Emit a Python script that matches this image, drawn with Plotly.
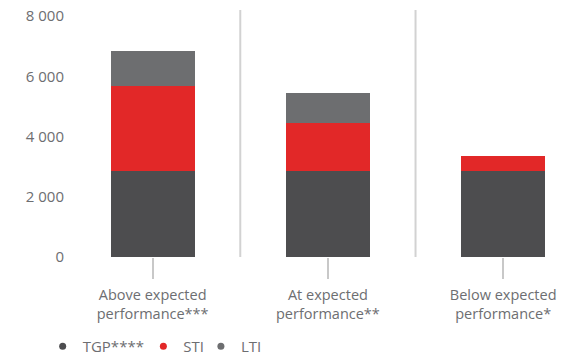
import plotly.graph_objects as go

# ---- data ----
categories = ["Above expected<br>performance***", "At expected<br>performance**", "Below expected<br>performance*"]
tgp = [2860, 2860, 2860]
sti = [2830, 1600, 500]
lti = [1150, 980, 0]
series_names = ["TGP****", "STI", "LTI"]
series_colors = ["#4d4d4f", "#e22828", "#6d6e70"]
y_ticks = [0, 2000, 4000, 6000, 8000]

# ---- style ----
W, H = 561, 363
M = dict(l=65, r=0, t=10, b=101)
Y_MAX = 8200
TICK_LEN = 21
TEXT = "#6d6e71"
FONT = "Open Sans"
plot_h = H - M["t"] - M["b"]

fig = go.Figure()
for name, vals, col in zip(series_names, [tgp, sti, lti], series_colors):
    fig.add_trace(go.Bar(x=categories, y=vals, name=name, marker=dict(color=col, line=dict(width=0)),
                         width=0.48, showlegend=False))

# cap of the category tick marks
cap_y = -TICK_LEN * Y_MAX / plot_h
fig.add_trace(go.Scatter(x=categories, y=[cap_y] * len(categories), mode="markers",
                         marker=dict(symbol="line-ew", size=9, line=dict(width=2, color="#c8c8c8")),
                         cliponaxis=False, showlegend=False, hoverinfo="skip"))

# legend entries (circles), each in its own legend for placement
legend_x = [-0.045, 0.158, 0.274]
for i, (name, col) in enumerate(zip(series_names, series_colors)):
    lg = "legend" if i == 0 else f"legend{i+1}"
    fig.add_trace(go.Scatter(x=[None], y=[None], mode="markers", name=name,
                             marker=dict(symbol="circle", size=7, color=col),
                             legend=lg, showlegend=True))

# separators between categories
for i in range(len(categories) - 1):
    fig.add_shape(type="line", xref="x", yref="paper", x0=i + 0.5, x1=i + 0.5, y0=0, y1=1,
                  line=dict(color="#d2d2d2", width=2), layer="below")

legend_common = dict(orientation="h", yanchor="middle", y=-0.365, xanchor="left",
                     font=dict(family=FONT, size=15, color=TEXT), bgcolor="rgba(0,0,0,0)",
                     itemwidth=30)
layout_legends = {}
for i in range(3):
    key = "legend" if i == 0 else f"legend{i+1}"
    layout_legends[key] = dict(legend_common, x=legend_x[i])

fig.update_layout(
    width=W, height=H, margin=M,
    barmode="stack", bargap=0.52,
    paper_bgcolor="white", plot_bgcolor="white",
    separators=". ",
    font=dict(family=FONT, size=15, color=TEXT),
    xaxis=dict(range=[-0.5, 2.33], showgrid=False, zeroline=False, showline=False,
               ticks="outside", ticklen=TICK_LEN, tickwidth=2, tickcolor="#c8c8c8",
               ticklabelstandoff=4,
               tickfont=dict(family=FONT, size=14.5, color=TEXT)),
    yaxis=dict(range=[0, Y_MAX], tickvals=y_ticks, separatethousands=True, tickformat=",d",
               showgrid=False, zeroline=False, showline=False,
               tickfont=dict(family=FONT, size=15, color=TEXT)),
    **layout_legends,
)

fig.write_html("out.html")
